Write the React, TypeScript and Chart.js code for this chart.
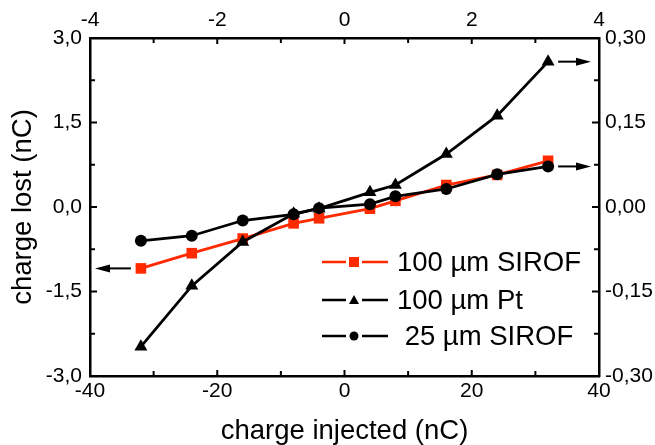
import React, { useEffect, useRef } from "react";
import { Chart, registerables } from "chart.js";

Chart.register(...registerables);

// charge injected (nC), bottom axis
const chargeInjected = [-32, -24, -16, -8, -4, 4, 8, 16, 24, 32];
// 100 µm SIROF, left axis (nC)
const sirof100 = [-1.09, -0.82, -0.56, -0.29, -0.2, -0.03, 0.11, 0.39, 0.57, 0.82];
// 100 µm Pt, right axis
const pt100 = [-0.248, -0.14, -0.062, -0.012, -0.003, 0.026, 0.039, 0.094, 0.162, 0.258];
// 25 µm SIROF, right axis
const sirof25 = [-0.06, -0.051, -0.024, -0.013, -0.002, 0.005, 0.019, 0.032, 0.058, 0.072];

const bottomTicks = [-40, -20, 0, 20, 40];
const topTicks = [-4, -2, 0, 2, 4];
const leftTicks = [-3, -1.5, 0, 1.5, 3];
const rightTicks = [-0.3, -0.15, 0, 0.15, 0.3];

const seriesLabels = ["100 µm SIROF", "100 µm Pt", " 25 µm SIROF"];

const FONT = "'Liberation Sans', Arial, Helvetica, sans-serif";
const RED = "#ff2a00";

const fmtComma = (v: number, d: number) => {
  const x = Math.abs(v) < 1e-9 ? 0 : v;
  return x.toFixed(d).replace(".", ",");
};

const framePlugin = {
  id: "frameTicks",
  afterDraw(chart: any) {
    const ctx = chart.ctx;
    const { left, right, top, bottom } = chart.chartArea;
    ctx.save();
    ctx.strokeStyle = "#000";
    ctx.lineWidth = 2;
    const drawTicks = (scaleId: string, majors: number[], side: string, majLen: number, minLen: number) => {
      const s = chart.scales[scaleId];
      const vals: [number, number][] = [];
      for (let i = 0; i < majors.length; i++) {
        vals.push([majors[i], majLen]);
        if (i < majors.length - 1) vals.push([(majors[i] + majors[i + 1]) / 2, minLen]);
      }
      vals.forEach(([v, len]) => {
        const p = s.getPixelForValue(v);
        ctx.beginPath();
        if (side === "left") { ctx.moveTo(left, p); ctx.lineTo(left + len, p); }
        if (side === "right") { ctx.moveTo(right, p); ctx.lineTo(right - len, p); }
        if (side === "top") { ctx.moveTo(p, top); ctx.lineTo(p, top + len); }
        if (side === "bottom") { ctx.moveTo(p, bottom); ctx.lineTo(p, bottom - len); }
        ctx.stroke();
      });
    };
    drawTicks("y", leftTicks, "left", 7, 5);
    drawTicks("y2", rightTicks, "right", 7, 5);
    drawTicks("x", bottomTicks, "bottom", 6, 5);
    drawTicks("x2", topTicks, "top", 6, 5);

    // arrows indicating axes
    const xs = chart.scales.x;
    const ys = chart.scales.y;
    const y2 = chart.scales.y2;
    const arrow = (x0: number, x1: number, y: number) => {
      const dir = Math.sign(x1 - x0);
      const headLen = 15;
      ctx.strokeStyle = "#000";
      ctx.fillStyle = "#000";
      ctx.lineWidth = 2;
      ctx.beginPath();
      ctx.moveTo(x0, y);
      ctx.lineTo(x1 - dir * headLen, y);
      ctx.stroke();
      ctx.beginPath();
      ctx.moveTo(x1, y);
      ctx.lineTo(x1 - dir * headLen, y - 4);
      ctx.lineTo(x1 - dir * headLen, y + 4);
      ctx.closePath();
      ctx.fill();
    };
    const n = chargeInjected.length - 1;
    arrow(xs.getPixelForValue(chargeInjected[0]) - 10, left + 5, ys.getPixelForValue(sirof100[0]));
    arrow(xs.getPixelForValue(chargeInjected[n]) + 10, right - 8, y2.getPixelForValue(pt100[n]));
    arrow(xs.getPixelForValue(chargeInjected[n]) + 10, right - 8, y2.getPixelForValue(sirof25[n]));

    // legend
    const rows = [262, 300, 336];
    const ds = chart.data.datasets;
    const lx0 = left + 232;
    const lx1 = left + 298;
    const mx = left + 264;
    const sizes = [5, 5, 4.5];
    [0, 1, 2].forEach((i) => {
      const d = ds[i];
      const y = rows[i];
      ctx.strokeStyle = d.borderColor;
      ctx.fillStyle = d.pointBackgroundColor;
      ctx.lineWidth = 2.5;
      ctx.beginPath();
      ctx.moveTo(lx0, y);
      ctx.lineTo(mx - 8, y);
      ctx.moveTo(mx + 8, y);
      ctx.lineTo(lx1, y);
      ctx.stroke();
      const r = sizes[i];
      ctx.beginPath();
      if (d.pointStyle === "rect") {
        ctx.rect(mx - r, y - r, 2 * r, 2 * r);
      } else if (d.pointStyle === "triangle") {
        ctx.moveTo(mx, y - r);
        ctx.lineTo(mx + r, y + r * 0.8);
        ctx.lineTo(mx - r, y + r * 0.8);
        ctx.closePath();
      } else {
        ctx.arc(mx, y, r, 0, Math.PI * 2);
      }
      ctx.fill();
      ctx.fillStyle = "#000";
      ctx.font = `27.5px ${FONT}`;
      ctx.textBaseline = "middle";
      ctx.textAlign = "left";
      ctx.fillText(d.label, left + 307, y + 1);
    });
    ctx.restore();
  },
};

export default function App() {
  const ref = useRef<HTMLCanvasElement | null>(null);
  useEffect(() => {
    if (!ref.current) return;
    const mk = (ys: number[]) => chargeInjected.map((x, i) => ({ x, y: ys[i] }));
    const chart = new Chart(ref.current, {
      type: "line",
      data: {
        datasets: [
          {
            label: seriesLabels[0],
            data: mk(sirof100),
            xAxisID: "x",
            yAxisID: "y",
            borderColor: RED,
            backgroundColor: RED,
            pointBackgroundColor: RED,
            pointBorderColor: RED,
            pointStyle: "rect",
            pointRadius: 7.5,
            pointBorderWidth: 0,
            borderWidth: 2.8,
            order: 2,
          },
          {
            label: seriesLabels[1],
            data: mk(pt100),
            xAxisID: "x",
            yAxisID: "y2",
            borderColor: "#000",
            backgroundColor: "#000",
            pointBackgroundColor: "#000",
            pointBorderColor: "#000",
            pointStyle: "triangle",
            pointRadius: 7.5,
            pointBorderWidth: 0,
            borderWidth: 2.8,
            order: 1,
          },
          {
            label: seriesLabels[2],
            data: mk(sirof25),
            xAxisID: "x",
            yAxisID: "y2",
            borderColor: "#000",
            backgroundColor: "#000",
            pointBackgroundColor: "#000",
            pointBorderColor: "#000",
            pointStyle: "circle",
            pointRadius: 6,
            pointBorderWidth: 0,
            borderWidth: 2.8,
            order: 0,
          },
        ],
      },
      options: {
        responsive: false,
        animation: false,
        layout: { padding: 0 },
        plugins: { legend: { display: false }, tooltip: { enabled: false } },
        scales: {
          x: {
            type: "linear",
            position: "bottom",
            min: bottomTicks[0],
            max: bottomTicks[bottomTicks.length - 1],
            afterBuildTicks: (s: any) => { s.ticks = bottomTicks.map((v) => ({ value: v })); },
            afterFit: (s: any) => { s.height = 69; },
            grid: { drawOnChartArea: false, drawTicks: false },
            border: { color: "#000", width: 2.5 },
            ticks: { color: "#000", font: { family: FONT, size: 21 }, padding: 3, maxRotation: 0, callback: (v: any) => String(v) },
            title: { display: true, text: "charge injected (nC)", color: "#000", font: { family: FONT, size: 27.5, lineHeight: 1 }, padding: { top: 0, bottom: 0 } },
          },
          x2: {
            type: "linear",
            position: "top",
            min: topTicks[0],
            max: topTicks[topTicks.length - 1],
            afterBuildTicks: (s: any) => { s.ticks = topTicks.map((v) => ({ value: v })); },
            afterFit: (s: any) => { s.height = 38; },
            grid: { drawOnChartArea: false, drawTicks: false },
            border: { color: "#000", width: 2.5 },
            ticks: { color: "#000", font: { family: FONT, size: 21 }, padding: 5, maxRotation: 0, callback: (v: any) => String(v) },
          },
          y: {
            type: "linear",
            position: "left",
            min: leftTicks[0],
            max: leftTicks[leftTicks.length - 1],
            afterBuildTicks: (s: any) => { s.ticks = leftTicks.map((v) => ({ value: v })); },
            afterFit: (s: any) => { s.width = 90; },
            grid: { drawOnChartArea: false, drawTicks: false },
            border: { color: "#000", width: 2.5 },
            ticks: { color: "#000", font: { family: FONT, size: 21 }, padding: 8, callback: (v: any) => fmtComma(Number(v), 1) },
            title: { display: true, text: "charge lost (nC)", color: "#000", font: { family: FONT, size: 27.5, lineHeight: 1 }, padding: { top: 10, bottom: 0 } },
          },
          y2: {
            type: "linear",
            position: "right",
            min: rightTicks[0],
            max: rightTicks[rightTicks.length - 1],
            afterBuildTicks: (s: any) => { s.ticks = rightTicks.map((v) => ({ value: v })); },
            afterFit: (s: any) => { s.width = 56; },
            grid: { drawOnChartArea: false, drawTicks: false },
            border: { color: "#000", width: 2.5 },
            ticks: { color: "#000", font: { family: FONT, size: 21 }, padding: 6, callback: (v: any) => fmtComma(Number(v), 2) },
          },
        },
      },
      plugins: [framePlugin],
    } as any);
    return () => chart.destroy();
  }, []);
  return (
    <div style={{ position: "absolute", left: 0, top: 0, width: 655, height: 445, background: "#fff" }}>
      <canvas ref={ref} width={655} height={445} />
    </div>
  );
}
